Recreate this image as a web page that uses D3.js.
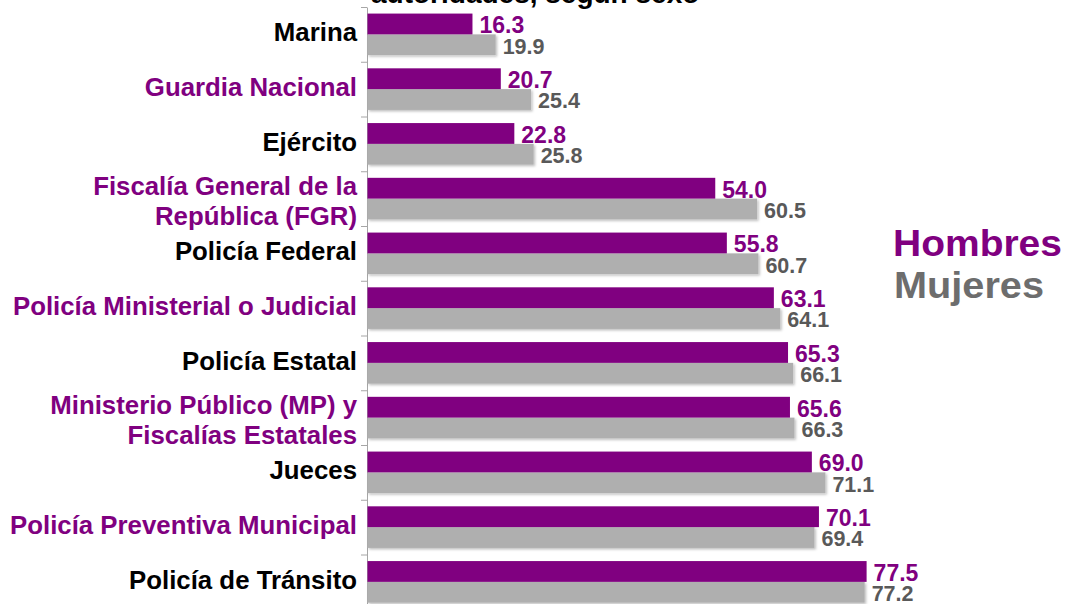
<!DOCTYPE html>
<html>
<head>
<meta charset="utf-8">
<script src="https://cdn.jsdelivr.net/npm/d3@7"></script>
<style>
  body { margin: 0; background: #fff; }
  svg { display: block; font-family: "Liberation Sans", Arial, sans-serif; font-weight: bold; }
</style>
</head>
<body>
<svg width="1065" height="604"></svg>
<script>
// categories top to bottom, "\n" splits a two line label
let categories = [
    "Marina",
    "Guardia Nacional",
    "Ejército",
    "Fiscalía General de la\nRepública (FGR)",
    "Policía Federal",
    "Policía Ministerial o Judicial",
    "Policía Estatal",
    "Ministerio Público (MP) y\nFiscalías Estatales",
    "Jueces",
    "Policía Preventiva Municipal",
    "Policía de Tránsito"
];
let hombres = [16.3, 20.7, 22.8, 54.0, 55.8, 63.1, 65.3, 65.6, 69.0, 70.1, 77.5];
let mujeres = [19.9, 25.4, 25.8, 60.5, 60.7, 64.1, 66.1, 66.3, 71.1, 69.4, 77.2];
let seriesNames = ["Hombres", "Mujeres"];

let purple = "#800080",
    grey = "#afafaf",
    greyText = "#595959";

let svg = d3.select("svg");

let defs = svg.append("defs");
defs.append("filter")
        .attr("id", "shadow")
        .attr("x", "-5%").attr("y", "-20%")
        .attr("width", "110%").attr("height", "150%")
    .append("feDropShadow")
        .attr("dx", 1.5).attr("dy", 1.5)
        .attr("stdDeviation", 1)
        .attr("flood-color", "#000")
        .attr("flood-opacity", 0.25);

let topY = 7, step = 54.75;

let x = d3.scaleLinear()
    .domain([0, 100])
    .range([367.5, 367.5 + 644]);

let y = d3.scaleBand()
    .domain(categories)
    .range([topY, topY + step * categories.length])
    .paddingInner(0.24)
    .paddingOuter(0.12);

let sub = d3.scaleBand()
    .domain(seriesNames)
    .range([0, y.bandwidth()]);

// title, mostly cut off at the top
svg.append("text")
    .attr("x", 371)
    .attr("y", 3)
    .attr("font-size", 28)
    .attr("fill", "#000")
    .text("autoridades, según sexo");

// axis with ticks between categories
let yTicks = d3.scaleLinear()
    .domain([0, categories.length])
    .range([topY, topY + step * categories.length]);

let axis = svg.append("g")
    .attr("transform", "translate(367,0)")
    .call(d3.axisLeft(yTicks)
        .tickValues(d3.range(categories.length + 1))
        .tickFormat("")
        .tickSize(6)
        .tickSizeOuter(0));
axis.select(".domain").attr("stroke", "#a6a6a6");
axis.selectAll(".tick line").attr("stroke", "#a6a6a6");

let rows = categories.map((c, i) => ({cat: c, h: hombres[i], m: mujeres[i], i: i}));

let groups = svg.append("g")
    .selectAll("g")
    .data(rows).enter().append("g")
        .attr("transform", d => "translate(0," + y(d.cat) + ")");

groups.append("rect")
    .attr("x", x(0))
    .attr("y", sub("Mujeres"))
    .attr("width", d => x(d.m) - x(0))
    .attr("height", sub.bandwidth())
    .attr("fill", grey)
    .attr("filter", "url(#shadow)");

groups.append("rect")
    .attr("x", x(0))
    .attr("y", sub("Hombres"))
    .attr("width", d => x(d.h) - x(0))
    .attr("height", sub.bandwidth())
    .attr("fill", purple);

groups.append("text")
    .attr("x", d => x(d.h) + 7)
    .attr("y", sub("Hombres") + sub.bandwidth() - 1)
    .attr("font-size", 23)
    .attr("fill", purple)
    .text(d => d.h.toFixed(1));

groups.append("text")
    .attr("x", d => x(d.m) + 7)
    .attr("y", sub("Mujeres") + sub.bandwidth() - 1.5)
    .attr("font-size", 21.5)
    .attr("fill", greyText)
    .text(d => d.m.toFixed(1));

// category labels, alternating black / purple
let labels = svg.append("g")
    .selectAll("text")
    .data(rows).enter().append("text")
        .attr("text-anchor", "end")
        .attr("font-size", 25.8)
        .attr("fill", d => d.i % 2 ? purple : "#000");

labels.each(function(d) {
    let lines = d.cat.split("\n");
    let mid = y(d.cat) + y.bandwidth() / 2;
    let t = d3.select(this);
    if (lines.length == 1) {
        t.append("tspan").attr("x", 357).attr("y", mid + 7).text(lines[0]);
    } else {
        t.append("tspan").attr("x", 357).attr("y", mid - 4).text(lines[0]);
        t.append("tspan").attr("x", 357).attr("y", mid + 26).text(lines[1]);
    }
});

// legend
let legend = svg.append("g");
legend.append("text")
    .attr("x", 893).attr("y", 256)
    .attr("font-size", 37)
    .attr("textLength", 169)
    .attr("lengthAdjust", "spacingAndGlyphs")
    .attr("fill", purple)
    .text(seriesNames[0]);
legend.append("text")
    .attr("x", 894).attr("y", 298)
    .attr("font-size", 37)
    .attr("textLength", 150)
    .attr("lengthAdjust", "spacingAndGlyphs")
    .attr("fill", "#6d6d6d")
    .text(seriesNames[1]);
</script>
</body>
</html>
